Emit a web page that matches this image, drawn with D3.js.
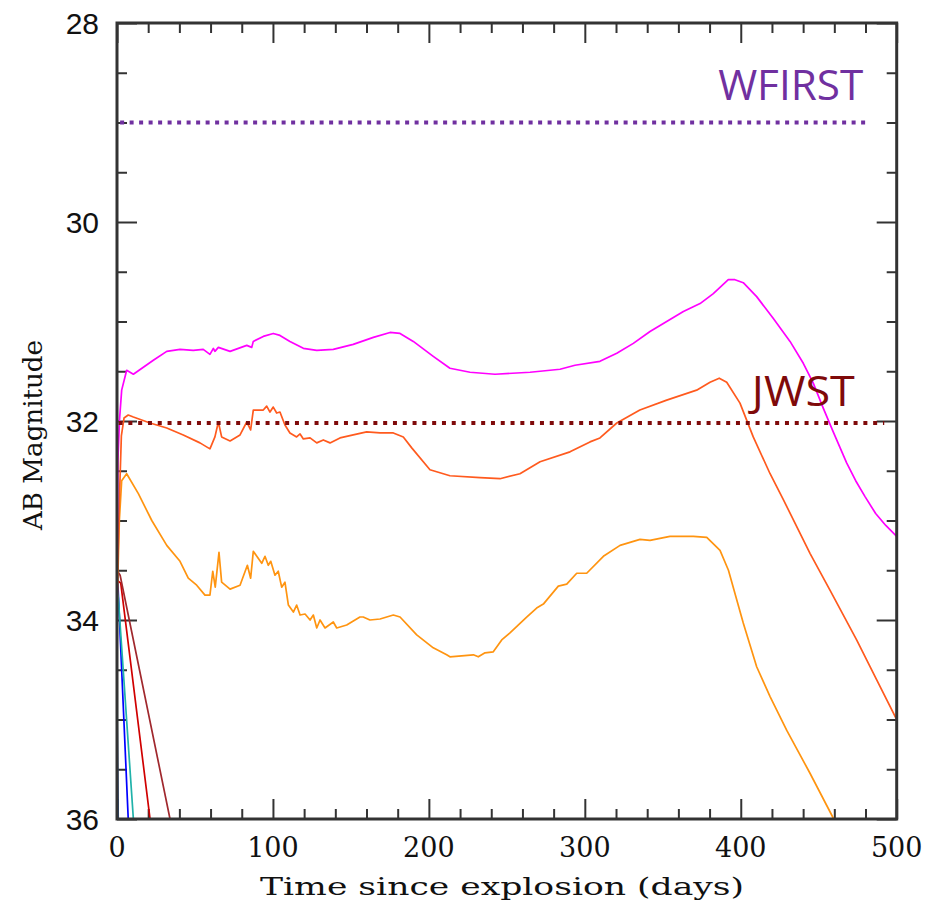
<!DOCTYPE html>
<html><head><meta charset="utf-8">
<script src="https://cdn.jsdelivr.net/npm/d3@7/dist/d3.min.js"></script>
<style>body{margin:0;background:#fff}svg{display:block}</style>
</head><body><svg id="c" width="929" height="906"></svg>
<script>
// ---------- data ----------
const xMajorTicks=[0,100,200,300,400,500];
const xTickLabels=["0","100","200","300","400","500"];
const yMajorTicks=[28,30,32,34,36];
const yTickLabels=["28","30","32","34","36"];
const xTitle="Time since explosion (days)";
const yTitle="AB Magnitude";
const limitNames=["WFIRST","JWST"];
const limitMags=[29,32.02];
const limitColors=["#7030A0","#7F0A0A"];

const magentaDays=[0,0.6,1.6,3.0,6.2,10.5,23.3,31.9,40.4,48.9,55.3,59.6,61.8,62.8,65.0,72.5,83.2,86.4,87.4,93.8,100.2,104.5,110.9,119.5,128.1,138.7,151.5,164.4,175.1,181.5,190.0,202.8,213.5,226.4,242.4,264.9,284.1,293.7,309.7,320.5,331.1,341.8,352.5,363.2,373.9,382.4,392.0,396.3,401.6,410.2,420.9,431.6,440.1,446.5,452.9,459.3,467.9,473.7,479.7,486.5,493,500];
const magentaMags=[33.6,32.39,31.99,31.69,31.49,31.53,31.39,31.30,31.28,31.29,31.28,31.33,31.27,31.30,31.26,31.30,31.24,31.26,31.20,31.15,31.12,31.14,31.20,31.27,31.29,31.28,31.23,31.16,31.11,31.12,31.20,31.35,31.47,31.51,31.53,31.51,31.48,31.44,31.40,31.32,31.22,31.10,31.00,30.90,30.82,30.72,30.58,30.58,30.61,30.75,30.97,31.20,31.42,31.62,31.87,32.11,32.42,32.60,32.76,32.93,33.05,33.16];

const orangeRedDays=[0,0.3,1.5,2.8,4.5,7.2,10.5,21.2,31.9,42.5,53.2,59.6,62.8,65.0,67.1,72.5,78.9,83.2,85.7,87.4,93.8,96.0,98.1,100.2,102.4,104.5,107.7,110.9,115.2,117.4,119.5,123.8,128.1,132.3,136.6,143.0,151.5,160.1,168.7,177.2,183.6,189.0,200.7,213.5,232.8,245.6,258.4,271.3,290.5,303.3,309.7,320.5,335.3,352.5,371.7,380.3,386.2,391.0,399.5,408.0,418.8,427.3,444.4,457.2,474.3,487.1,500];
const orangeRedMags=[34.0,33.6,32.8,32.15,31.97,31.94,31.96,32.02,32.07,32.14,32.22,32.28,32.16,32.01,32.16,32.20,32.14,32.01,32.09,31.89,31.89,31.85,31.91,31.86,31.92,31.91,32.04,32.12,32.16,32.13,32.18,32.17,32.22,32.19,32.22,32.17,32.14,32.11,32.12,32.12,32.16,32.27,32.49,32.55,32.57,32.58,32.53,32.41,32.31,32.21,32.17,32.02,31.89,31.79,31.69,31.61,31.57,31.61,31.82,32.16,32.53,32.79,33.33,33.70,34.20,34.60,35.00];

const orangeDays=[0,1.5,3.0,6.2,13.7,22.3,31.9,40.4,45.7,51.1,56.4,59.6,61.4,63.0,65.4,67.1,72.5,78.9,83.6,85.7,87.4,92.8,94.9,97.0,98.6,101.3,103.4,105.6,107.7,109.9,113.1,115.2,117.4,120.6,123.8,125.9,128.1,130.2,133.4,138.7,140.9,147.3,155.8,157.9,162.2,168.7,177.2,181.5,192.2,202.8,211.4,213.5,228.5,231.7,236.0,241.3,246.7,252.0,262.7,269.1,273.4,283.0,288.4,294.8,301.2,311.9,322.6,335.4,341.8,354.6,369.6,378.2,386.7,392.1,401.6,410.2,418.8,429.5,444.4,459.3,462];
const orangeMags=[33.9,33.0,32.6,32.53,32.73,33.00,33.25,33.41,33.58,33.65,33.75,33.75,33.51,33.67,33.32,33.62,33.69,33.65,33.45,33.58,33.31,33.43,33.36,33.45,33.41,33.55,33.51,33.67,33.62,33.85,33.92,33.85,33.95,33.94,34.00,33.95,34.08,34.00,34.08,34.02,34.08,34.05,33.97,33.97,34.00,33.99,33.95,33.97,34.15,34.28,34.35,34.37,34.35,34.37,34.33,34.32,34.20,34.13,33.97,33.88,33.84,33.66,33.64,33.53,33.53,33.36,33.25,33.19,33.20,33.16,33.16,33.17,33.30,33.50,34.03,34.47,34.77,35.11,35.54,35.99,36.05];

const brownDays=[0,2,34,35];   const brownMags=[33.5,33.55,36.0,36.1];
const redDays=[0,2.4,21.2,22]; const redMags=[33.6,33.63,36.0,36.1];
const tealDays=[0,0.8,10.5,11]; const tealMags=[33.7,33.77,36.0,36.1];
const blueDays=[0,7.2,7.5];    const blueMags=[33.43,36.0,36.1];
const dkTealDays=[0,0.3,0.4];  const dkTealMags=[33.75,35.9,36.1];
const navyDays=[0,0.8,0.9];    const navyMags=[34.9,36.0,36.1];

const seriesList=[
  {d:navyDays,m:navyMags,c:"#1F2A78"},
  {d:dkTealDays,m:dkTealMags,c:"#3C8A8A"},
  {d:blueDays,m:blueMags,c:"#0000FF"},
  {d:tealDays,m:tealMags,c:"#20B2AA"},
  {d:redDays,m:redMags,c:"#D00000"},
  {d:brownDays,m:brownMags,c:"#A0282D"},
  {d:orangeDays,m:orangeMags,c:"#FF9410"},
  {d:orangeRedDays,m:orangeRedMags,c:"#FF5A1E"},
  {d:magentaDays,m:magentaMags,c:"#FF00FF"}
];

// ---------- layout ----------
const L=117,R=896.7,T=23,B=819;
const svg=d3.select("#c");
const x=d3.scaleLinear().domain([0,500]).range([L,R]);
const y=d3.scaleLinear().domain([28,36]).range([T,B]);

svg.append("defs").append("clipPath").attr("id","clip")
  .append("rect").attr("x",L).attr("y",T).attr("width",R-L).attr("height",B-T);

const xMinor=d3.range(0,501,20).filter(v=>v%100!==0);
const yMinor=d3.range(28,36.01,0.5).filter(v=>Math.abs(v/2-Math.round(v/2))>1e-6);

function axisG(axis,tx,ty){
  const g=svg.append("g").attr("transform",`translate(${tx},${ty})`).call(axis);
  g.select(".domain").remove();
  g.selectAll("line").attr("stroke","#333").attr("stroke-width",2);
  g.selectAll("text").remove();
  return g;
}
axisG(d3.axisBottom(x).tickValues(xMinor).tickSize(-10),0,B);
axisG(d3.axisBottom(x).tickValues(xMajorTicks).tickSize(-20),0,B);
axisG(d3.axisTop(x).tickValues(xMinor).tickSize(-10),0,T);
axisG(d3.axisTop(x).tickValues(xMajorTicks).tickSize(-20),0,T);
axisG(d3.axisLeft(y).tickValues(yMinor).tickSize(-10),L,0);
axisG(d3.axisLeft(y).tickValues(yMajorTicks).tickSize(-20),L,0);
axisG(d3.axisRight(y).tickValues(yMinor).tickSize(-10),R,0);
axisG(d3.axisRight(y).tickValues(yMajorTicks).tickSize(-20),R,0);

// curves
const line=d3.line().x(p=>x(p[0])).y(p=>y(p[1]));
const cg=svg.append("g").attr("clip-path","url(#clip)");
seriesList.forEach(s=>{
  const pts=s.d.map((d,i)=>[d,s.m[i]]);
  cg.append("path").attr("d",line(pts)).attr("fill","none")
    .attr("stroke",s.c).attr("stroke-width",1.7).attr("stroke-linejoin","round");
});

// limit lines
const limitExtent=[[2,483],[1,492]];
limitMags.forEach((m,i)=>{
  svg.append("line").attr("x1",x(limitExtent[i][0])).attr("x2",x(limitExtent[i][1]))
    .attr("y1",y(m)).attr("y2",y(m)).attr("stroke",limitColors[i])
    .attr("stroke-width",4).attr("stroke-dasharray",i===0?"4,5.5":"4,5.8");
});
svg.append("text").attr("x",x(385.5)).attr("y",y(28.775)).text(limitNames[0])
  .attr("fill",limitColors[0]).attr("font-family","Open Sans, Lato, sans-serif")
  .attr("font-size",42).attr("textLength",145).attr("lengthAdjust","spacingAndGlyphs");
svg.append("text").attr("x",x(407.1)).attr("y",y(31.85)).text(limitNames[1])
  .attr("fill",limitColors[1]).attr("font-family","Open Sans, Lato, sans-serif")
  .attr("font-size",42).attr("textLength",103).attr("lengthAdjust","spacingAndGlyphs");

// frame
svg.append("rect").attr("x",L).attr("y",T).attr("width",R-L).attr("height",B-T)
  .attr("fill","none").attr("stroke","#333").attr("stroke-width",3);

// tick labels
svg.append("g").selectAll("text").data(xMajorTicks).join("text")
  .attr("x",d=>x(d)).attr("y",B+38).attr("text-anchor","middle")
  .attr("font-family","DejaVu Serif, serif").attr("font-size",27).attr("fill","#111")
  .text((d,i)=>xTickLabels[i]);
svg.append("g").selectAll("text").data(yMajorTicks).join("text")
  .attr("x",L-18).attr("y",d=>y(d)+10.5).attr("text-anchor","end")
  .attr("font-family","Liberation Sans, Arial, sans-serif").attr("font-size",30).attr("fill","#111")
  .text((d,i)=>yTickLabels[i]);

// axis titles
svg.append("text").attr("x",260).attr("y",895).text(xTitle)
  .attr("font-family","DejaVu Serif, serif").attr("font-size",25).attr("fill","#111")
  .attr("textLength",484).attr("lengthAdjust","spacingAndGlyphs");
svg.append("text").attr("transform","translate(42,530) rotate(-90)").text(yTitle)
  .attr("font-family","DejaVu Serif, serif").attr("font-size",26).attr("fill","#111")
  .attr("textLength",190).attr("lengthAdjust","spacingAndGlyphs");
</script></body></html>
